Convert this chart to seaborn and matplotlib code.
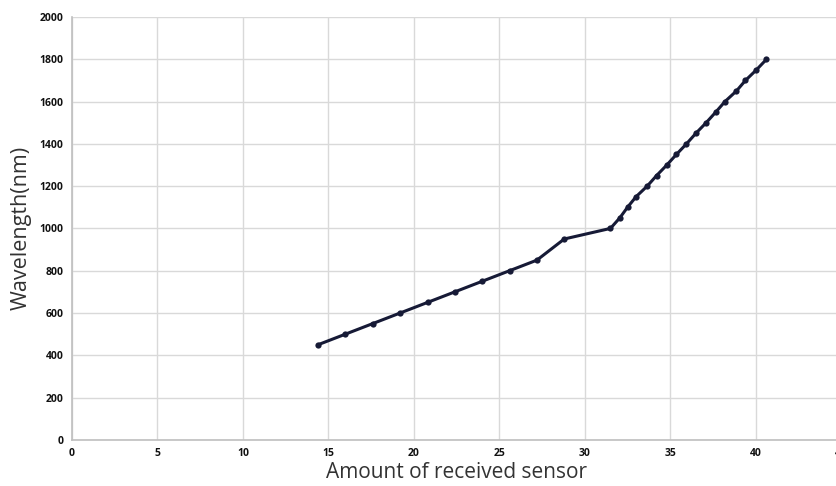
import pandas as pd
import seaborn as sns
import matplotlib.pyplot as plt

# Values
sensor_amount = [14.4, 16.0, 17.6, 19.2, 20.8, 22.4, 24.0, 25.6, 27.2, 28.8,
                 31.5, 32.05, 32.5, 33.0, 33.65, 34.2, 34.8, 35.36, 35.95,
                 36.5, 37.1, 37.66, 38.2, 38.87, 39.4, 40.04, 40.63]
wavelength = [450, 500, 550, 600, 650, 700, 750, 800, 850, 950,
              1000, 1050, 1100, 1150, 1200, 1250, 1300, 1350, 1400,
              1450, 1500, 1550, 1600, 1650, 1700, 1750, 1800]

df = pd.DataFrame({"sensor": sensor_amount, "wavelength": wavelength})

sns.set_style("whitegrid")
plt.rcParams["font.family"] = ["Open Sans", "DejaVu Sans"]

fig = plt.figure(figsize=(8.37, 4.86), dpi=100)
ax = fig.add_axes([0.086, 0.095, 0.919, 0.870])

sns.lineplot(data=df, x="sensor", y="wavelength", ax=ax, color="#161a36",
             linewidth=2.2, marker="o", markersize=4.5, markeredgewidth=0)

ax.set_xlim(0, 45)
ax.set_ylim(0, 2000)
ax.set_xticks(range(0, 46, 5))
ax.set_yticks(range(0, 2001, 200))
ax.tick_params(axis="both", labelsize=7.5, colors="#111111", length=0, pad=6)
for lbl in ax.get_xticklabels() + ax.get_yticklabels():
    lbl.set_fontweight("bold")
ax.grid(True, color="#d9d9d9", linewidth=1)

for side in ["top", "right"]:
    ax.spines[side].set_visible(False)
for side in ["left", "bottom"]:
    ax.spines[side].set_color("#bfbfbf")
    ax.spines[side].set_linewidth(1.2)

ax.set_xlabel("Amount of received sensor", fontsize=15, color="#333333", labelpad=2)
ax.set_ylabel("Wavelength(nm)", fontsize=15.5, color="#333333", labelpad=6)

fig.savefig("out.png", dpi=100)
